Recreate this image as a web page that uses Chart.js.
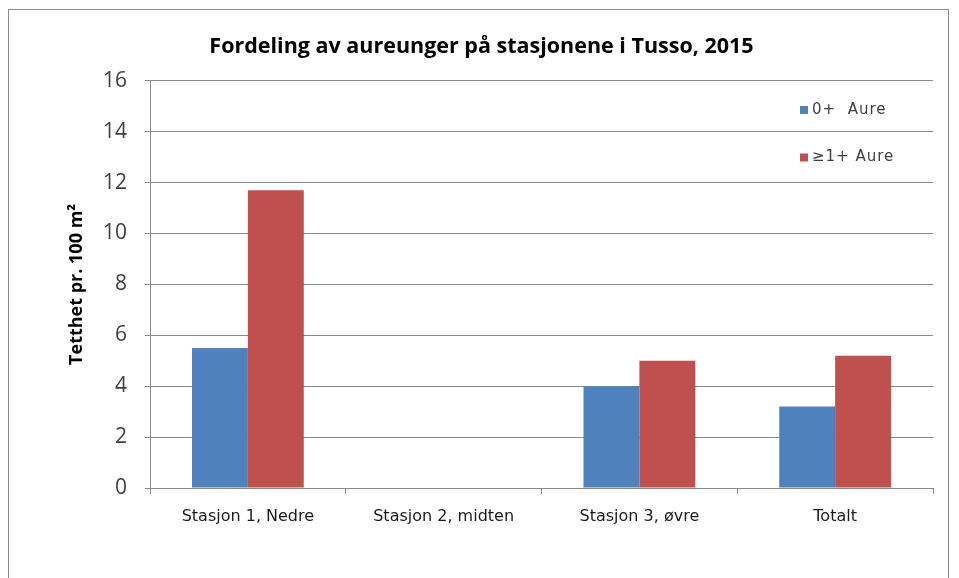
<!DOCTYPE html>
<html>
<head>
<meta charset="utf-8">
<style>
html, body { margin: 0; padding: 0; background: white; }
#wrap { position: relative; width: 959px; height: 578px; overflow: hidden; }
#frame { position: absolute; left: 8px; top: 9px; width: 941px; height: 600px; border: 1px solid #8c8c8c; box-sizing: border-box; }
#chart { position: absolute; left: 0; top: 0; }
</style>
<script src="https://cdn.jsdelivr.net/npm/chart.js"></script>
</head>
<body>
<div id="wrap">
  <div id="frame"></div>
  <canvas id="chart" width="959" height="578"></canvas>
</div>
<script>
const stations = ['Stasjon 1, Nedre', 'Stasjon 2, midten', 'Stasjon 3, øvre', 'Totalt'];
const aure0 = [5.5, 0, 4.0, 3.2];
const aure1 = [11.7, 0, 5.0, 5.2];
const seriesNames = ['0+  Aure', '≥1+ Aure'];
const seriesColors = ['#4f81bd', '#c0504d'];
const yTicks = [0, 2, 4, 6, 8, 10, 12, 14, 16];

const titleFam = '"Open Sans", Lato, sans-serif';
const labelFam = '"DejaVu Sans", Verdana, sans-serif';
const gridCol = '#8a8a8a';

// legend drawn inside the plot, like the Excel original
const innerLegend = {
  id: 'innerLegend',
  afterDraw(chart) {
    const ctx = chart.ctx;
    ctx.save();
    ctx.font = '15px ' + labelFam;
    ctx.letterSpacing = '1px';
    ctx.textBaseline = 'middle';
    chart.data.datasets.forEach((ds, i) => {
      const y = 110 + i * 47.5;
      ctx.fillStyle = ds.backgroundColor;
      ctx.fillRect(800, y - 4, 8, 8);
      ctx.fillStyle = '#404040';
      ctx.fillText(ds.label, 812, y);
    });
    ctx.restore();
  }
};

new Chart(document.getElementById('chart'), {
  type: 'bar',
  data: {
    labels: stations,
    datasets: [
      { label: seriesNames[0], data: aure0, backgroundColor: seriesColors[0] },
      { label: seriesNames[1], data: aure1, backgroundColor: seriesColors[1] }
    ]
  },
  options: {
    responsive: false,
    animation: false,
    layout: { padding: { left: 30, right: 26, top: 0, bottom: 50 } },
    datasets: { bar: { categoryPercentage: 0.571, barPercentage: 1.0 } },
    plugins: {
      legend: { display: false },
      tooltip: { enabled: false },
      title: {
        display: true,
        text: 'Fordeling av aureunger på stasjonene i Tusso, 2015',
        color: '#000',
        font: { family: titleFam, size: 21.5, weight: 'bold' },
        padding: { top: 34, bottom: 21 }
      }
    },
    scales: {
      x: {
        afterFit: s => { s.height = 40; },
        grid: { display: true, drawOnChartArea: false, color: gridCol, tickLength: 6, offset: true },
        border: { color: gridCol },
        ticks: { color: '#1a1a1a', font: { family: labelFam, size: 16 }, padding: 13, maxRotation: 0 }
      },
      y: {
        min: 0,
        max: 16,
        afterFit: s => { s.width = 120; },
        afterBuildTicks: s => { s.ticks = yTicks.map(v => ({ value: v })); },
        grid: { color: gridCol, tickLength: 5 },
        border: { color: gridCol },
        ticks: { color: '#404040', font: { family: titleFam, size: 21 }, padding: 18 },
        title: {
          display: true,
          text: 'Tetthet pr. 100 m²',
          color: '#000',
          font: { family: titleFam, size: 18, weight: 'bold' },
          padding: { top: 36, bottom: 0 }
        }
      }
    }
  },
  plugins: [innerLegend]
});
</script>
</body>
</html>
